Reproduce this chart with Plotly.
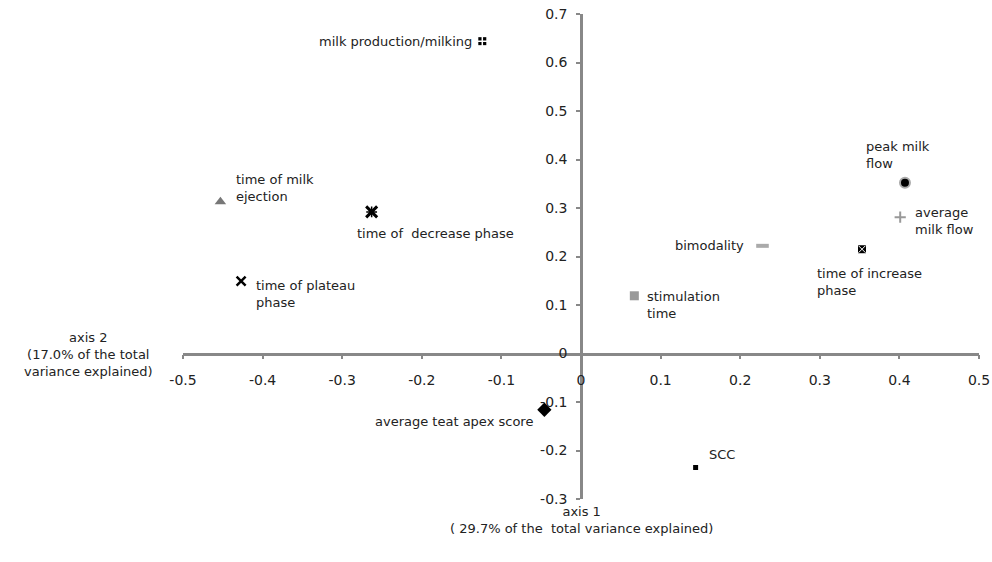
import plotly.graph_objects as go

# ---- data ----
names = ["milk production/milking", "time of milk<br>ejection", "time of\u00a0 decrease phase",
         "time of plateau<br>phase", "peak milk<br>flow", "average<br>milk flow", "bimodality",
         "time of increase<br>phase", "stimulation<br>time", "average teat apex score", "SCC"]
axis1 = [-0.124, -0.453, -0.263, -0.427, 0.407, 0.401, 0.228, 0.353, 0.067, -0.046, 0.144]
axis2 = [0.644, 0.313, 0.292, 0.149, 0.352, 0.281, 0.222, 0.215, 0.119, -0.116, -0.235]

stray_x = [-0.510]
stray_y = [0.628]

x_ticks = [-0.5, -0.4, -0.3, -0.2, -0.1, 0, 0.1, 0.2, 0.3, 0.4, 0.5]
x_tick_labels = ["-0.5", "-0.4", "-0.3", "-0.2", "-0.1", "0", "0.1", "0.2", "0.3", "0.4", "0.5"]
y_ticks = [-0.3, -0.2, -0.1, 0, 0.1, 0.2, 0.3, 0.4, 0.5, 0.6, 0.7]
y_tick_labels = ["-0.3", "-0.2", "-0.1", "0", "0.1", "0.2", "0.3", "0.4", "0.5", "0.6", "0.7"]

# ---- styles ----
symbols = ["square", "triangle-up", "x-thin", "x-thin", "circle", "cross-thin", "line-ew",
           "square", "square", "diamond", "square"]
colors = ["black", "#777777", "black", "black", "black", "#999999", "#aaaaaa",
          "black", "#999999", "black", "black"]
sizes = [8, 10, 11, 9, 10, 8, 9, 8, 9, 11, 5]
line_colors = ["black", "#777777", "black", "black", "#aaaaaa", "#999999", "#aaaaaa",
               "black", "#999999", "black", "black"]
line_widths = [0, 0, 3, 2.5, 2, 2, 4, 0, 0, 0, 0]

# label offsets (px): xshift, yshift, xanchor, yanchor
label_pos = [
    (-8, 0, "right", "middle"),
    (14, -4, "left", "bottom"),
    (-17, -12, "left", "top"),
    (13, 5, "left", "top"),
    (-41, 10, "left", "bottom"),
    (13, -4, "left", "middle"),
    (-16, 0, "right", "middle"),
    (-47, -15, "left", "top"),
    (11, 9, "left", "top"),
    (-9, -12, "right", "middle"),
    (11, 13, "left", "middle"),
]

FONT = "DejaVu Sans, Verdana, sans-serif"
LABEL_SIZE = 13

fig = go.Figure()
fig.add_trace(go.Scatter(
    x=axis1, y=axis2, mode="markers", cliponaxis=False, showlegend=False,
    marker=dict(symbol=symbols, color=colors, size=sizes, opacity=1,
                line=dict(color=line_colors, width=line_widths)),
))
# overlays: white cross on milk production, white x on increase phase, extra stroke on decrease phase
fig.add_trace(go.Scatter(
    x=[axis1[0]], y=[axis2[0]], mode="markers", cliponaxis=False, showlegend=False,
    marker=dict(symbol="cross-thin", size=8, opacity=1, line=dict(color="white", width=1.5)),
))
fig.add_trace(go.Scatter(
    x=[axis1[7]], y=[axis2[7]], mode="markers", cliponaxis=False, showlegend=False,
    marker=dict(symbol="x-thin", size=7, opacity=1, line=dict(color="white", width=1)),
))
fig.add_trace(go.Scatter(
    x=[axis1[2]], y=[axis2[2]], mode="markers", cliponaxis=False, showlegend=False,
    marker=dict(symbol="asterisk", size=9, opacity=1, line=dict(color="black", width=1.5)),
))
fig.add_trace(go.Scatter(
    x=stray_x, y=stray_y, mode="markers", cliponaxis=False, showlegend=False,
    marker=dict(symbol="line-ew", size=3, opacity=1, line=dict(color="#999999", width=1)),
))

for n, xv, yv, (dx, dy, xa, ya) in zip(names, axis1, axis2, label_pos):
    fig.add_annotation(x=xv, y=yv, text=n, showarrow=False, xanchor=xa, yanchor=ya,
                       xshift=dx, yshift=dy, align="left",
                       font=dict(family=FONT, size=LABEL_SIZE, color="#222222"))

fig.add_annotation(xref="paper", yref="paper", x=-0.119, y=0.297, showarrow=False,
                   text="axis 2<br>(17.0% of the total<br>variance explained)",
                   align="center", xanchor="center", yanchor="middle",
                   font=dict(family=FONT, size=LABEL_SIZE, color="#222222"))
fig.add_annotation(xref="paper", yref="paper", x=0.5, y=-0.043, showarrow=False,
                   text="axis 1<br>( 29.7% of the\u00a0 total variance explained)",
                   align="center", xanchor="center", yanchor="middle",
                   font=dict(family=FONT, size=LABEL_SIZE, color="#222222"))

axis_common = dict(showgrid=False, zeroline=False, showline=True, linecolor="#888888",
                   linewidth=2.5, ticks="outside", ticklen=4, tickwidth=2, tickcolor="#888888",
                   automargin=False, ticklabeloverflow="allow",
                   tickfont=dict(family=FONT, size=14, color="#222222"))
fig.update_layout(
    width=992, height=562, plot_bgcolor="white", paper_bgcolor="white",
    margin=dict(l=183, r=13, t=14, b=63, autoexpand=False),
    hovermode=False,
    xaxis=dict(range=[-0.5, 0.5], tickvals=x_ticks, ticktext=x_tick_labels,
               anchor="free", position=0.3, ticklabelstandoff=9, **axis_common),
    yaxis=dict(range=[-0.3, 0.7], tickvals=y_ticks, ticktext=y_tick_labels,
               anchor="free", position=0.5, ticklabelstandoff=6, **axis_common),
)

# remove the browser's default 8px page margin so the 992x562 figure fills the window exactly
fig.write_html("out.html", config={"displayModeBar": False},
               post_script="document.body.style.margin='0';document.body.style.overflow='hidden';")
